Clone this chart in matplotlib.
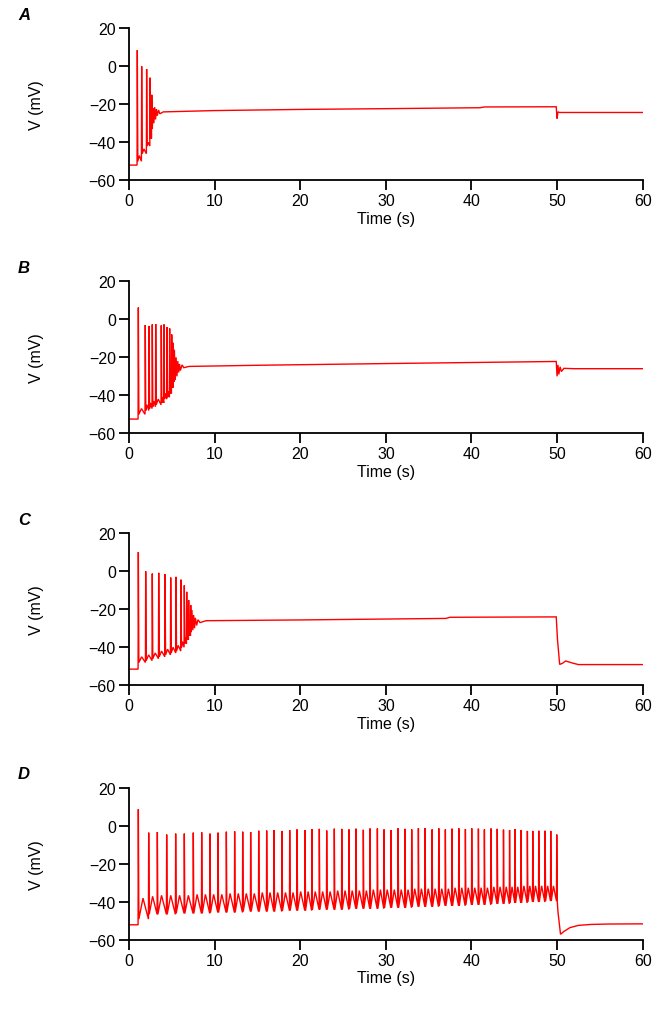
import matplotlib
matplotlib.use("Agg")
import matplotlib.pyplot as plt

plt.rcParams['font.family'] = ['Liberation Sans', 'DejaVu Sans']

# ---------------- data ----------------
panel_labels = ["A", "B", "C", "D"]
x_ticks = [0, 10, 20, 30, 40, 50, 60]
y_ticks = [-60, -40, -20, 0, 20]

# Panel A
a_rest = -52.0
a_spk_t = [0.97, 1.48, 2.06, 2.46, 2.66]
a_spk_pk = [8.5, 0.0, -1.5, -6.0, -15.0]
a_spk_ahp = [-50.0, -46.0, -42.0, -38.0, -33.0]
a_spk_mid = [-47.0, -43.5, -40.0, -36.0, -31.0]
a_tail_t = [2.8, 2.9, 3.0, 3.1, 3.2, 3.3, 3.45, 3.6, 4.0, 10.0, 20.0, 30.0, 41.0, 41.5, 49.9, 50.0, 50.1, 50.3, 60.0]
a_tail_v = [-22.0, -30.0, -21.5, -28.0, -22.5, -26.0, -23.0, -25.0, -24.0, -23.3, -22.7, -22.3, -21.8, -21.4, -21.3, -27.5, -24.0, -24.3, -24.3]

# Panel B
b_rest = -52.5
b_spk_t = [1.09, 1.90, 2.34, 2.72, 3.12, 3.77, 4.09, 4.44, 4.75, 4.99, 5.17]
b_spk_pk = [6.2, -3.0, -3.5, -2.7, -2.5, -3.2, -2.7, -4.1, -4.8, -8.0, -12.4]
b_spk_ahp = [-50.0, -48.0, -47.0, -46.0, -45.0, -44.0, -42.0, -41.0, -39.0, -36.0, -33.0]
b_spk_mid = [-47.0, -45.0, -44.0, -43.0, -42.0, -41.0, -39.0, -38.0, -36.0, -33.0, -30.0]
b_tail_t = [5.3, 5.4, 5.5, 5.6, 5.7, 5.8, 5.9, 6.0, 6.2, 6.4, 7.0, 15.0, 30.0, 49.9, 50.0, 50.1, 50.2, 50.35, 50.5, 50.8, 52.0, 60.0]
b_tail_v = [-16.0, -32.0, -20.0, -30.0, -22.0, -28.0, -23.5, -27.0, -24.0, -25.5, -24.8, -24.2, -23.3, -22.2, -30.0, -24.0, -29.0, -25.0, -27.5, -25.8, -26.0, -26.0]

# Panel C
c_rest = -51.5
c_spk_t = [1.09, 1.95, 2.72, 3.47, 4.21, 4.87, 5.49, 6.07, 6.46, 6.74, 6.97, 7.21]
c_spk_pk = [10.1, 0.0, -1.2, -0.8, -1.5, -3.3, -2.9, -4.4, -7.4, -10.8, -15.2, -17.8]
c_spk_ahp = [-48.0, -47.0, -46.0, -45.0, -44.0, -43.0, -42.0, -40.0, -38.0, -36.0, -34.0, -32.0]
c_spk_mid = [-45.0, -44.0, -43.0, -42.0, -41.0, -40.0, -39.0, -37.0, -35.0, -33.0, -31.0, -29.0]
c_tail_t = [7.35, 7.45, 7.55, 7.65, 7.75, 7.9, 8.05, 8.3, 9.0, 20.0, 37.0, 37.5, 49.9, 50.05, 50.3, 50.6, 51.0, 51.8, 52.5, 60.0]
c_tail_v = [-20.4, -31.0, -23.0, -30.0, -24.5, -28.5, -25.5, -27.0, -26.0, -25.6, -24.8, -24.2, -24.0, -36.0, -49.0, -48.5, -47.2, -48.3, -49.1, -49.1]

# Panel D
d_rest = -52.0
d_spk_t = [1.09, 2.30, 3.31, 4.40, 5.45, 6.46, 7.51, 8.49, 9.46, 10.40,
           11.37, 12.34, 13.28, 14.21, 15.15, 16.08, 16.94, 17.87, 18.77, 19.63,
           20.56, 21.36, 22.23, 23.09, 23.98, 24.85, 25.70, 26.52, 27.37, 28.15,
           29.01, 29.79, 30.61, 31.43, 32.24, 33.02, 33.80, 34.58, 35.40, 36.18,
           36.95, 37.73, 38.52, 39.29, 40.03, 40.81, 41.51, 42.29, 43.01, 43.74,
           44.45, 45.09, 45.79, 46.53, 47.16, 47.86, 48.60, 49.26, 49.96]
d_spk_pk = [8.8, -3.5, -3.2, -4.5, -4.0, -4.0, -3.5, -3.3, -4.0, -3.5,
            -3.0, -2.8, -3.0, -3.2, -2.5, -2.4, -2.2, -2.6, -2.2, -1.8,
            -2.2, -1.6, -1.5, -2.4, -1.4, -1.5, -1.8, -1.4, -2.0, -1.3,
            -1.3, -1.8, -2.2, -1.2, -1.5, -1.8, -1.2, -1.1, -1.8, -1.2,
            -1.8, -1.4, -1.2, -1.6, -1.2, -1.4, -1.8, -1.3, -1.5, -1.9,
            -2.1, -1.6, -2.2, -2.6, -2.6, -2.5, -2.5, -2.6, -4.5]
d_spk_ahp = [-49.0, -46.5, -46.5, -46.5, -46.0, -46.0, -46.0, -46.0, -45.5, -45.5,
             -45.5, -45.5, -45.0, -45.0, -45.0, -45.0, -45.0, -44.5, -44.5, -44.5,
             -44.5, -44.0, -44.0, -44.0, -44.0, -44.0, -43.5, -43.5, -43.5, -43.5,
             -43.5, -43.0, -43.0, -43.0, -43.0, -42.5, -42.5, -42.5, -42.5, -42.0,
             -42.0, -42.0, -42.0, -41.5, -41.5, -41.5, -41.5, -41.0, -41.0, -41.0,
             -40.5, -40.5, -40.5, -40.0, -40.0, -40.0, -39.5, -39.5, -39.5]
d_spk_mid = [-38.0, -37.0, -36.5, -36.5, -36.5, -36.5, -36.0, -36.0, -36.0, -36.0,
             -35.5, -35.5, -35.5, -35.5, -35.0, -35.0, -35.0, -35.0, -35.0, -34.5,
             -34.5, -34.5, -34.5, -34.5, -34.0, -34.0, -34.0, -34.0, -34.0, -33.5,
             -33.5, -33.5, -33.5, -33.5, -33.5, -33.0, -33.0, -33.0, -33.0, -33.0,
             -33.0, -32.5, -32.5, -32.5, -32.5, -32.5, -32.5, -32.0, -32.0, -32.0,
             -32.0, -32.0, -31.5, -31.5, -31.5, -31.5, -31.5, -31.5, -31.5]
d_tail_t = [50.1, 50.4, 50.8, 51.5, 52.5, 54.0, 56.0, 60.0]
d_tail_v = [-45.0, -57.0, -55.5, -53.5, -52.3, -51.8, -51.6, -51.5]

panels = [
    (a_rest, a_spk_t, a_spk_pk, a_spk_ahp, a_spk_mid, a_tail_t, a_tail_v),
    (b_rest, b_spk_t, b_spk_pk, b_spk_ahp, b_spk_mid, b_tail_t, b_tail_v),
    (c_rest, c_spk_t, c_spk_pk, c_spk_ahp, c_spk_mid, c_tail_t, c_tail_v),
    (d_rest, d_spk_t, d_spk_pk, d_spk_ahp, d_spk_mid, d_tail_t, d_tail_v),
]


def build_trace(rest, st, pk, ahp, mid, tt, tv):
    t = [0.0, st[0] - 0.03]
    v = [rest, rest]
    n = len(st)
    for i in range(n):
        t += [st[i], st[i] + 0.06]
        v += [pk[i], ahp[i]]
        if i < n - 1:
            isi = st[i + 1] - st[i]
            t += [st[i] + 0.45 * isi, st[i + 1] - 0.03]
            v += [mid[i], ahp[i]]
    t += list(tt)
    v += list(tv)
    return t, v


# ---------------- figure ----------------
W, H = 664, 1020
fig = plt.figure(figsize=(W / 100, H / 100), dpi=100)

left_px, right_px = 129, 642.7
tops_px = [29.3, 282.3, 534.3, 789.0]
ax_h_px = 152.0

for k, (lab, pdata) in enumerate(zip(panel_labels, panels)):
    top = tops_px[k]
    ax = fig.add_axes([left_px / W, 1 - (top + ax_h_px) / H,
                       (right_px - left_px) / W, ax_h_px / H])
    t, v = build_trace(*pdata)
    ax.plot(t, v, color='#ff0000', lw=1.0, solid_joinstyle='miter')
    ax.set_xlim(0, 60)
    ax.set_ylim(-60, 20)
    ax.set_xticks(x_ticks)
    ax.set_yticks(y_ticks)
    for s in ['top', 'right']:
        ax.spines[s].set_visible(False)
    for s in ['left', 'bottom']:
        ax.spines[s].set_linewidth(1.3)
    ax.tick_params(direction='out', length=7.5, width=1.3, labelsize=11.5, pad=2)
    ax.tick_params(axis='x', pad=1.5)
    ax.set_xlabel('Time (s)', fontsize=11.5)
    ax.set_ylabel('V (mV)', fontsize=11.5)
    ax.xaxis.set_label_coords(0.5, -0.20)
    ax.yaxis.set_label_coords(-0.165, 0.5)
    fig.text(18 / W, 1 - (top - 14) / H, lab, fontsize=12, fontweight='bold',
             fontstyle='italic', ha='left', va='center')

fig.savefig('out.png', dpi=100)
